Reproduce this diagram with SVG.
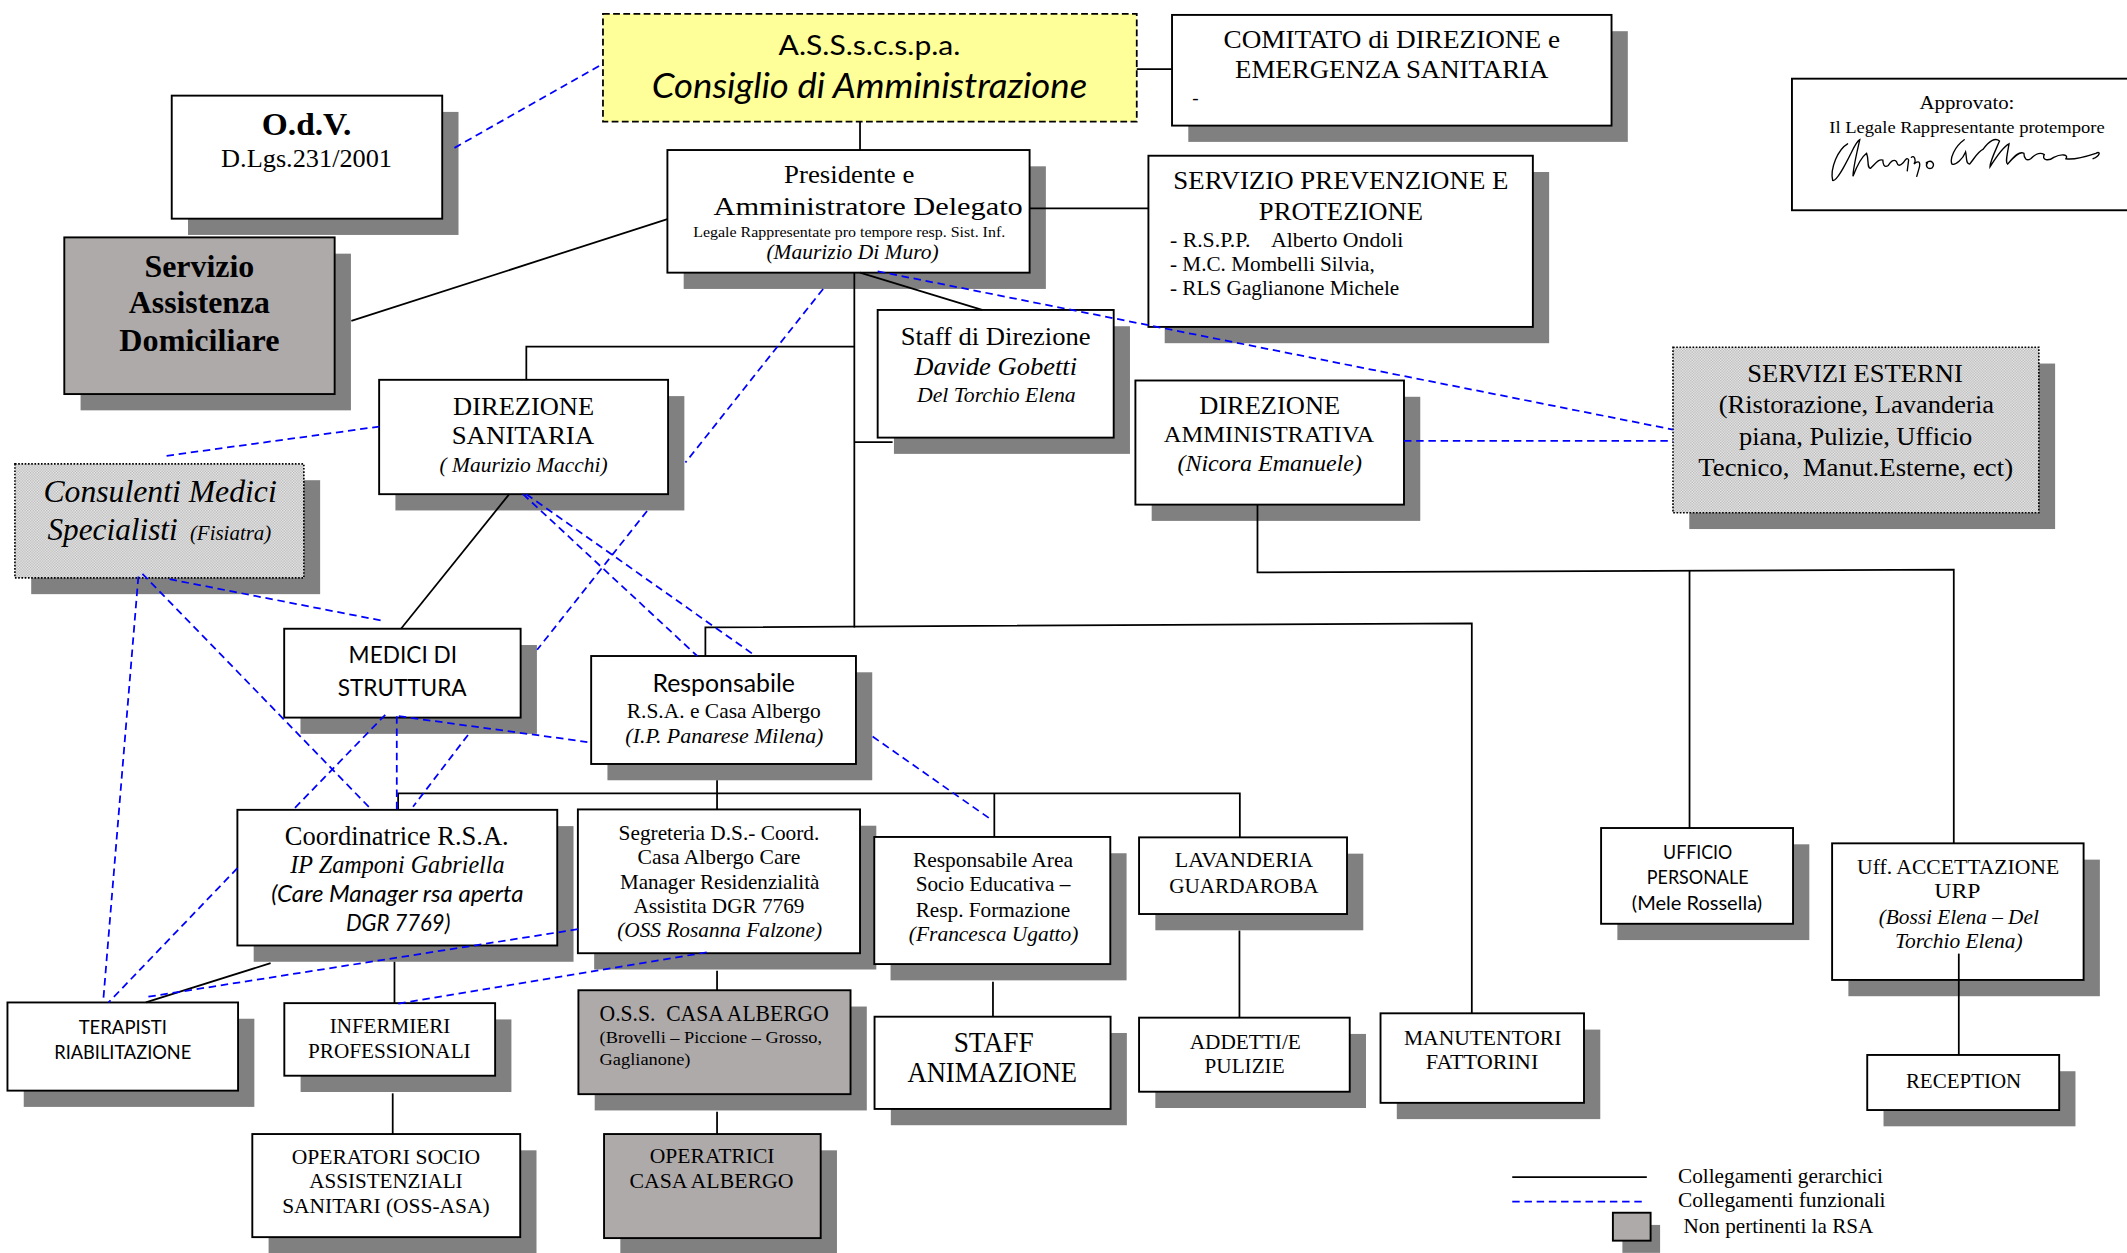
<svg xmlns="http://www.w3.org/2000/svg" width="2127" height="1253" viewBox="0 0 2127 1253">
<style>
.box{fill:#fff;stroke:#000;stroke-width:1.4}
.grey{fill:#AEAAAA;stroke:#000;stroke-width:1.4}
.yel{fill:#FFFF99;stroke:#000;stroke-width:1.3;stroke-dasharray:5 2.5}
.dot{fill:url(#dots);stroke:#000;stroke-width:1.2;stroke-dasharray:1.2 1.2}
.sh{fill:#808080}
.h{stroke:#000;stroke-width:1.3;fill:none}
.f{stroke:#0000FF;stroke-width:1.3;stroke-dasharray:5.5 3.5;fill:none}
text{font-family:"Liberation Serif","Times New Roman",serif;fill:#000}
.s{font-family:Lato,"Liberation Sans",sans-serif}
.i{font-style:italic}
.b{font-weight:bold}
.m{text-anchor:middle}
.sig{stroke:#000;stroke-width:1;fill:none;stroke-linecap:round}
</style>
<defs>
<pattern id="dots" patternUnits="userSpaceOnUse" width="2" height="2">
<rect width="2" height="2" fill="#EEEEEE"/>
<rect width="1" height="1" fill="#B4B4B4"/>
<rect x="1" y="1" width="1" height="1" fill="#B4B4B4"/>
</pattern>
</defs>
<rect width="2127" height="1253" fill="#fff"/>
<g transform="scale(1.35651)">

<g id="n-consiglio">
<rect class="yel" x="444.5" y="10.3" width="393.5" height="79.4"/>
<text x="641" y="40.5" class="s m" font-size="20" textLength="134" lengthAdjust="spacingAndGlyphs">A.S.S.s.c.s.p.a.</text>
<text x="641" y="72.5" class="s i m" font-size="26" textLength="321" lengthAdjust="spacingAndGlyphs">Consiglio di Amministrazione</text>
</g>

<g id="n-comitato">
<rect class="sh" x="876" y="23" width="324" height="81.6"/>
<rect class="box" x="864" y="11" width="324" height="81.6"/>
<text x="1026" y="35.6" class="m" font-size="19" textLength="248" lengthAdjust="spacingAndGlyphs">COMITATO di DIREZIONE e</text>
<text x="1026" y="57.7" class="m" font-size="19" textLength="231" lengthAdjust="spacingAndGlyphs">EMERGENZA SANITARIA</text>
<text x="879" y="77" font-size="14">-</text>
</g>

<g id="n-odv">
<rect class="sh" x="138.6" y="82.5" width="199.4" height="90.7"/>
<rect class="box" x="126.6" y="70.5" width="199.4" height="90.7"/>
<text x="226" y="99.5" class="m b" font-size="24" textLength="66" lengthAdjust="spacingAndGlyphs">O.d.V.</text>
<text x="226" y="122.9" class="m" font-size="19" textLength="126" lengthAdjust="spacingAndGlyphs">D.Lgs.231/2001</text>
</g>

<g id="n-sad">
<rect class="sh" x="59.4" y="187" width="199.3" height="115.5"/>
<rect class="grey" x="47.4" y="175" width="199.3" height="115.5"/>
<text x="147" y="204" class="m b" font-size="24" textLength="81" lengthAdjust="spacingAndGlyphs">Servizio</text>
<text x="147" y="231" class="m b" font-size="24" textLength="104" lengthAdjust="spacingAndGlyphs">Assistenza</text>
<text x="147" y="258.5" class="m b" font-size="24" textLength="118" lengthAdjust="spacingAndGlyphs">Domiciliare</text>
</g>

<g id="n-presidente">
<rect class="sh" x="504" y="122.6" width="267" height="90.4"/>
<rect class="box" x="492" y="110.6" width="267" height="90.4"/>
<text x="626" y="135" class="m" font-size="19" textLength="96" lengthAdjust="spacingAndGlyphs">Presidente e</text>
<text x="640" y="158.5" class="m" font-size="19" textLength="228" lengthAdjust="spacingAndGlyphs">Amministratore Delegato</text>
<text x="626" y="174.5" class="m" font-size="11.5" textLength="230" lengthAdjust="spacingAndGlyphs">Legale Rappresentate pro tempore resp. Sist. Inf.</text>
<text x="628.5" y="191.2" class="m i" font-size="15" textLength="127" lengthAdjust="spacingAndGlyphs">(Maurizio Di Muro)</text>
</g>

<g id="n-spp">
<rect class="sh" x="858.6" y="126.8" width="283.4" height="126.2"/>
<rect class="box" x="846.6" y="114.8" width="283.4" height="126.2"/>
<text x="988.5" y="139.6" class="m" font-size="19" textLength="247" lengthAdjust="spacingAndGlyphs">SERVIZIO PREVENZIONE E</text>
<text x="988.5" y="162" class="m" font-size="19" textLength="121" lengthAdjust="spacingAndGlyphs">PROTEZIONE</text>
<text x="862.5" y="181.8" font-size="15" xml:space="preserve" textLength="172" lengthAdjust="spacingAndGlyphs">- R.S.P.P.    Alberto Ondoli</text>
<text x="862.5" y="199.5" font-size="15" textLength="151" lengthAdjust="spacingAndGlyphs">- M.C. Mombelli Silvia,</text>
<text x="862.5" y="217.5" font-size="15" textLength="169" lengthAdjust="spacingAndGlyphs">- RLS Gaglianone Michele</text>
</g>

<g id="n-approvato">
<rect class="box" x="1321" y="58" width="252" height="97"/>
<text x="1450" y="80.7" class="m" font-size="14" textLength="70" lengthAdjust="spacingAndGlyphs">Approvato:</text>
<text x="1450" y="97.9" class="m" font-size="13" textLength="203" lengthAdjust="spacingAndGlyphs">Il Legale Rappresentante protempore</text>
<path class="sig" d="M1362,106 C1355,110 1349,124 1351,133 C1354,134 1360,122 1365,112 C1367,108 1369,104 1371,103 C1369,112 1366,124 1366,130 C1369,122 1372,116 1376,113 C1378,118 1376,124 1379,124 C1383,120 1385,117 1388,118 C1388,121 1389,124 1392,122 C1394,119 1396,117 1398,119 C1399,122 1400,123 1403,120 C1405,117 1406,116 1407,118 L1406,126 M1409,116 C1411,114 1413,118 1411,121 C1413,119 1416,118 1415,123 L1413,130 M1420,120 C1424,117 1427,121 1424,124 C1421,125 1419,122 1421,120"/>
<path class="sig" d="M1448,103 C1441,108 1437,117 1439,121 C1442,122 1447,117 1449,112 C1450,116 1449,121 1452,121 C1456,116 1458,112 1462,110 C1466,104 1471,101 1474,104 C1471,111 1467,119 1467,123 C1472,115 1477,108 1481,106 C1480,113 1478,120 1480,121 C1485,115 1489,111 1492,113 C1492,117 1494,119 1497,117 C1501,113 1504,112 1507,114 C1505,118 1510,119 1514,116 C1520,113 1525,114 1523,117 C1528,118 1536,116 1545,113 C1549,111 1548,115 1543,117"/>
</g>

<g id="n-staff">
<rect class="sh" x="659" y="240.5" width="174" height="94.1"/>
<rect class="box" x="647" y="228.5" width="174" height="94.1"/>
<text x="734" y="254.3" class="m" font-size="19" textLength="140" lengthAdjust="spacingAndGlyphs">Staff di Direzione</text>
<text x="734" y="276.5" class="m i" font-size="19" textLength="120" lengthAdjust="spacingAndGlyphs">Davide Gobetti</text>
<text x="734.5" y="296" class="m i" font-size="15" textLength="117" lengthAdjust="spacingAndGlyphs">Del Torchio Elena</text>
</g>

<g id="n-da">
<rect class="sh" x="849" y="292.5" width="198" height="91.5"/>
<rect class="box" x="837" y="280.5" width="198" height="91.5"/>
<text x="936" y="305" class="m" font-size="19" textLength="104" lengthAdjust="spacingAndGlyphs">DIREZIONE</text>
<text x="935.5" y="326" class="m" font-size="17" textLength="155" lengthAdjust="spacingAndGlyphs">AMMINISTRATIVA</text>
<text x="936" y="347" class="m i" font-size="17" textLength="136" lengthAdjust="spacingAndGlyphs">(Nicora Emanuele)</text>
</g>

<g id="n-esterni">
<rect class="sh" x="1245.3" y="268" width="269.7" height="122"/>
<rect class="dot" x="1233.3" y="256" width="269.7" height="122"/>
<text x="1367.5" y="281.8" class="m" font-size="19" textLength="159" lengthAdjust="spacingAndGlyphs">SERVIZI ESTERNI</text>
<text x="1368.5" y="304.8" class="m" font-size="19" textLength="203" lengthAdjust="spacingAndGlyphs">(Ristorazione, Lavanderia</text>
<text x="1368" y="328" class="m" font-size="19" textLength="172" lengthAdjust="spacingAndGlyphs">piana, Pulizie, Ufficio</text>
<text x="1368" y="350.6" class="m" font-size="19" xml:space="preserve" textLength="232" lengthAdjust="spacingAndGlyphs">Tecnico,  Manut.Esterne, ect)</text>
</g>

<g id="n-ds">
<rect class="sh" x="291.5" y="292" width="213" height="84.3"/>
<rect class="box" x="279.5" y="280" width="213" height="84.3"/>
<text x="386" y="306" class="m" font-size="19" textLength="104" lengthAdjust="spacingAndGlyphs">DIREZIONE</text>
<text x="385.5" y="327.5" class="m" font-size="19" textLength="105" lengthAdjust="spacingAndGlyphs">SANITARIA</text>
<text x="386" y="347.7" class="m i" font-size="15" textLength="124" lengthAdjust="spacingAndGlyphs">( Maurizio Macchi)</text>
</g>

<g id="n-consulenti">
<rect class="sh" x="23" y="354" width="213" height="84"/>
<rect class="dot" x="11" y="342" width="213" height="84"/>
<text x="118" y="369.8" class="m i" font-size="24" textLength="172" lengthAdjust="spacingAndGlyphs">Consulenti Medici</text>
<text x="35" y="398" class="i" font-size="24" textLength="96" lengthAdjust="spacingAndGlyphs">Specialisti</text>
<text x="140" y="398" class="i" font-size="15" textLength="60" lengthAdjust="spacingAndGlyphs">(Fisiatra)</text>
</g>

<g id="n-medici">
<rect class="sh" x="221.5" y="475.5" width="174.3" height="65.5"/>
<rect class="box" x="209.5" y="463.5" width="174.3" height="65.5"/>
<text x="297" y="488.8" class="m s" font-size="17" textLength="80" lengthAdjust="spacingAndGlyphs">MEDICI DI</text>
<text x="296.5" y="513" class="m s" font-size="17" textLength="95" lengthAdjust="spacingAndGlyphs">STRUTTURA</text>
</g>

<g id="n-responsabile">
<rect class="sh" x="447.8" y="495.6" width="195.2" height="79.6"/>
<rect class="box" x="435.8" y="483.6" width="195.2" height="79.6"/>
<text x="533.5" y="510" class="m s" font-size="18" textLength="105" lengthAdjust="spacingAndGlyphs">Responsabile</text>
<text x="533.5" y="529.4" class="m" font-size="15" textLength="143" lengthAdjust="spacingAndGlyphs">R.S.A. e Casa Albergo</text>
<text x="534" y="548" class="m i" font-size="15" textLength="146" lengthAdjust="spacingAndGlyphs">(I.P. Panarese Milena)</text>
</g>

<g id="n-coordinatrice">
<rect class="sh" x="187" y="609" width="235.8" height="100"/>
<rect class="box" x="175" y="597" width="235.8" height="100"/>
<text x="292.5" y="623" class="m" font-size="20" textLength="165" lengthAdjust="spacingAndGlyphs">Coordinatrice R.S.A.</text>
<text x="293" y="643.7" class="m i" font-size="19" textLength="158" lengthAdjust="spacingAndGlyphs">IP Zamponi Gabriella</text>
<text x="293" y="664.7" class="m s i" font-size="17" textLength="186" lengthAdjust="spacingAndGlyphs">(Care Manager rsa aperta</text>
<text x="293.5" y="686" class="m s i" font-size="17" textLength="77" lengthAdjust="spacingAndGlyphs">DGR 7769)</text>
</g>

<g id="n-segreteria">
<rect class="sh" x="438" y="608.7" width="208" height="106"/>
<rect class="box" x="426" y="596.7" width="208" height="106"/>
<text x="530" y="619" class="m" font-size="15.5" textLength="148" lengthAdjust="spacingAndGlyphs">Segreteria D.S.- Coord.</text>
<text x="530" y="637" class="m" font-size="15.5" textLength="120" lengthAdjust="spacingAndGlyphs">Casa Albergo Care</text>
<text x="530.5" y="655.4" class="m" font-size="15.5" textLength="147" lengthAdjust="spacingAndGlyphs">Manager Residenzialità</text>
<text x="530" y="673" class="m" font-size="15.5" textLength="126" lengthAdjust="spacingAndGlyphs">Assistita DGR 7769</text>
<text x="530.5" y="690.5" class="m i" font-size="15.5" textLength="151" lengthAdjust="spacingAndGlyphs">(OSS Rosanna Falzone)</text>
</g>

<g id="n-resparea">
<rect class="sh" x="656.5" y="629" width="174" height="93.7"/>
<rect class="box" x="644.5" y="617" width="174" height="93.7"/>
<text x="732" y="639" class="m" font-size="15.5" textLength="118" lengthAdjust="spacingAndGlyphs">Responsabile Area</text>
<text x="732" y="657" class="m" font-size="15.5" textLength="114" lengthAdjust="spacingAndGlyphs">Socio Educativa –</text>
<text x="732" y="675.7" class="m" font-size="15.5" textLength="114" lengthAdjust="spacingAndGlyphs">Resp. Formazione</text>
<text x="732.5" y="694" class="m i" font-size="15.5" textLength="125" lengthAdjust="spacingAndGlyphs">(Francesca Ugatto)</text>
</g>

<g id="n-lavanderia">
<rect class="sh" x="851.7" y="629.3" width="153.3" height="56.5"/>
<rect class="box" x="839.7" y="617.3" width="153.3" height="56.5"/>
<text x="917" y="639" class="m" font-size="16" textLength="102" lengthAdjust="spacingAndGlyphs">LAVANDERIA</text>
<text x="917" y="658" class="m" font-size="16" textLength="110" lengthAdjust="spacingAndGlyphs">GUARDAROBA</text>
</g>

<g id="n-personale">
<rect class="sh" x="1192.3" y="622.4" width="141.5" height="70.6"/>
<rect class="box" x="1180.3" y="610.4" width="141.5" height="70.6"/>
<text x="1251.5" y="633" class="m s" font-size="14" textLength="51" lengthAdjust="spacingAndGlyphs">UFFICIO</text>
<text x="1251.5" y="652" class="m s" font-size="14" textLength="75" lengthAdjust="spacingAndGlyphs">PERSONALE</text>
<text x="1251" y="671" class="m s" font-size="14" textLength="96" lengthAdjust="spacingAndGlyphs">(Mele Rossella)</text>
</g>

<g id="n-accettazione">
<rect class="sh" x="1362.6" y="633.7" width="185.4" height="100.7"/>
<rect class="box" x="1350.6" y="621.7" width="185.4" height="100.7"/>
<text x="1443.5" y="644" class="m" font-size="16" textLength="149" lengthAdjust="spacingAndGlyphs">Uff. ACCETTAZIONE</text>
<text x="1443" y="662" class="m" font-size="16" textLength="34" lengthAdjust="spacingAndGlyphs">URP</text>
<text x="1444" y="681" class="m i" font-size="16" textLength="118" lengthAdjust="spacingAndGlyphs">(Bossi Elena – Del</text>
<text x="1444" y="699" class="m i" font-size="16" textLength="94" lengthAdjust="spacingAndGlyphs">Torchio Elena)</text>
</g>

<g id="n-terapisti">
<rect class="sh" x="17.5" y="751" width="170" height="65"/>
<rect class="box" x="5.5" y="739" width="170" height="65"/>
<text x="90.5" y="762.3" class="m s" font-size="14" textLength="65" lengthAdjust="spacingAndGlyphs">TERAPISTI</text>
<text x="90.5" y="780.8" class="m s" font-size="14" textLength="101" lengthAdjust="spacingAndGlyphs">RIABILITAZIONE</text>
</g>

<g id="n-infermieri">
<rect class="sh" x="221.6" y="751.5" width="155.4" height="53.5"/>
<rect class="box" x="209.6" y="739.5" width="155.4" height="53.5"/>
<text x="287.5" y="761.7" class="m" font-size="16" textLength="89" lengthAdjust="spacingAndGlyphs">INFERMIERI</text>
<text x="287" y="779.7" class="m" font-size="16" textLength="120" lengthAdjust="spacingAndGlyphs">PROFESSIONALI</text>
</g>

<g id="n-operatori">
<rect class="sh" x="198" y="848" width="197.5" height="76"/>
<rect class="box" x="186" y="836" width="197.5" height="76"/>
<text x="284.5" y="858" class="m" font-size="16" textLength="139" lengthAdjust="spacingAndGlyphs">OPERATORI SOCIO</text>
<text x="284.5" y="876" class="m" font-size="16" textLength="113" lengthAdjust="spacingAndGlyphs">ASSISTENZIALI</text>
<text x="284.5" y="894" class="m" font-size="16" textLength="153" lengthAdjust="spacingAndGlyphs">SANITARI (OSS-ASA)</text>
</g>

<g id="n-oss">
<rect class="sh" x="438.4" y="742" width="200.6" height="76.6"/>
<rect class="grey" x="426.4" y="730" width="200.6" height="76.6"/>
<text x="442" y="752.4" font-size="17" xml:space="preserve" textLength="169" lengthAdjust="spacingAndGlyphs">O.S.S.  CASA ALBERGO</text>
<text x="442" y="769" font-size="13" textLength="164" lengthAdjust="spacingAndGlyphs">(Brovelli – Piccione – Grosso,</text>
<text x="442" y="785" font-size="13" textLength="67" lengthAdjust="spacingAndGlyphs">Gaglianone)</text>
</g>

<g id="n-operatrici">
<rect class="sh" x="457.3" y="848" width="159.7" height="76.7"/>
<rect class="grey" x="445.3" y="836" width="159.7" height="76.7"/>
<text x="525" y="857.5" class="m" font-size="16" textLength="92" lengthAdjust="spacingAndGlyphs">OPERATRICI</text>
<text x="524.5" y="876" class="m" font-size="16" textLength="121" lengthAdjust="spacingAndGlyphs">CASA ALBERGO</text>
</g>

<g id="n-animazione">
<rect class="sh" x="656.7" y="761.5" width="174" height="68"/>
<rect class="box" x="644.7" y="749.5" width="174" height="68"/>
<text x="732.5" y="775.3" class="m" font-size="21" textLength="59" lengthAdjust="spacingAndGlyphs">STAFF</text>
<text x="731.5" y="798" class="m" font-size="21" textLength="125" lengthAdjust="spacingAndGlyphs">ANIMAZIONE</text>
</g>

<g id="n-addetti">
<rect class="sh" x="851.7" y="762.2" width="155.3" height="54.6"/>
<rect class="box" x="839.7" y="750.2" width="155.3" height="54.6"/>
<text x="918" y="773" class="m" font-size="16" textLength="82" lengthAdjust="spacingAndGlyphs">ADDETTI/E</text>
<text x="917.5" y="791" class="m" font-size="16" textLength="59" lengthAdjust="spacingAndGlyphs">PULIZIE</text>
</g>

<g id="n-manutentori">
<rect class="sh" x="1029.7" y="759" width="150" height="66"/>
<rect class="box" x="1017.7" y="747" width="150" height="66"/>
<text x="1093" y="770" class="m" font-size="16" textLength="116" lengthAdjust="spacingAndGlyphs">MANUTENTORI</text>
<text x="1092.5" y="788" class="m" font-size="16" textLength="83" lengthAdjust="spacingAndGlyphs">FATTORINI</text>
</g>

<g id="n-reception">
<rect class="sh" x="1388.5" y="789.7" width="141.5" height="40.6"/>
<rect class="box" x="1376.5" y="777.7" width="141.5" height="40.6"/>
<text x="1447.5" y="802" class="m" font-size="16" textLength="85" lengthAdjust="spacingAndGlyphs">RECEPTION</text>
</g>

<g id="legend">
<line class="h" x1="1114.8" y1="867.8" x2="1214" y2="867.8"/>
<line class="f" x1="1114.8" y1="885.9" x2="1211" y2="885.9"/>
<rect class="sh" x="1196" y="903" width="27.8" height="20.6"/>
<rect class="grey" x="1189" y="894" width="27.8" height="20.6"/>
<text x="1237" y="872" font-size="15" textLength="151" lengthAdjust="spacingAndGlyphs">Collegamenti gerarchici</text>
<text x="1237" y="890" font-size="15" textLength="153" lengthAdjust="spacingAndGlyphs">Collegamenti funzionali</text>
<text x="1241" y="909" font-size="15" textLength="140" lengthAdjust="spacingAndGlyphs">Non pertinenti la RSA</text>
</g>

<g id="connectors">
<path class="h" d="M838,51 H864"/>
<path class="h" d="M634,89.7 V110.6"/>
<path class="h" d="M259,236.6 L492,161.5"/>
<path class="h" d="M759,153.6 H846.6"/>
<path class="h" d="M634,201 L724,228.5"/>
<path class="h" d="M629.8,201 V462.5"/>
<path class="h" d="M629.8,255.5 H388 V280"/>
<path class="h" d="M629.8,326 H658"/>
<path class="h" d="M520,483.6 V462.5 L1085,459.5 V747"/>
<path class="h" d="M927,372 V422 L1440.3,420 V621.7"/>
<path class="h" d="M1245.5,421 V610.4"/>
<path class="h" d="M1444,703 V777.7"/>
<path class="h" d="M375.4,364.3 L295.6,463.5"/>
<path class="h" d="M528.6,575.2 V596.7"/>
<path class="h" d="M293.5,597 V584.8 H914 V617.3"/>
<path class="h" d="M733,584.8 V617"/>
<path class="h" d="M199.5,710 L107.5,739"/>
<path class="h" d="M290.8,709 V739.5"/>
<path class="h" d="M289.5,806 V836"/>
<path class="h" d="M528.6,715.6 V730"/>
<path class="h" d="M528.6,819.5 V836"/>
<path class="h" d="M732,723.7 V749.5"/>
<path class="h" d="M913.7,686 V750.2"/>

<path class="f" d="M335,109 L444.5,47"/>
<path class="f" d="M647,200 L1233.3,316.7"/>
<path class="f" d="M1035,325 H1233.3"/>
<path class="f" d="M122.8,336 L279.5,314.5"/>
<path class="f" d="M606.8,213 L505.3,341"/>
<path class="f" d="M477,376.7 L396,479"/>
<path class="f" d="M385.6,364.3 L514,483.6"/>
<path class="f" d="M388,364.3 L557,483.6"/>
<path class="f" d="M125,427 L284,458"/>
<path class="f" d="M105,423 L274,597"/>
<path class="f" d="M102,425 L76,739"/>
<path class="f" d="M175,640 L80,739"/>
<path class="f" d="M284,527 L216,597"/>
<path class="f" d="M292.5,528 V597"/>
<path class="f" d="M345,541.8 L304.5,594.7"/>
<path class="f" d="M294,528 L433,547"/>
<path class="f" d="M643.3,543 L729,603"/>
<path class="f" d="M426,685 L108,735"/>
<path class="f" d="M521,702 L293,740"/>
</g>

</g>
</svg>
